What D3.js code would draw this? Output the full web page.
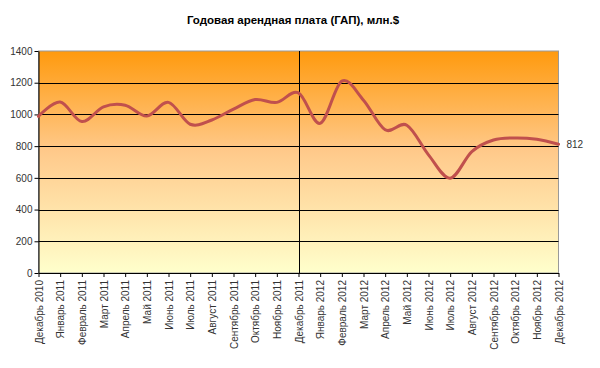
<!DOCTYPE html>
<html><head><meta charset="utf-8">
<script src="https://cdn.jsdelivr.net/npm/d3@7"></script>
<style>body{margin:0;background:#fff;} text{font-family:"Liberation Sans",Arial,sans-serif;}</style>
</head><body>
<svg id="c" width="600" height="368"></svg>
<script>
const title = "Годовая арендная плата (ГАП), млн.$";
const months = ["Декабрь 2010","Январь 2011","Февраль 2011","Март 2011","Апрель 2011","Май 2011","Июнь 2011","Июль 2011","Август 2011","Сентябрь 2011","Октябрь 2011","Ноябрь 2011","Декабрь 2011","Январь 2012","Февраль 2012","Март 2012","Апрель 2012","Май 2012","Июнь 2012","Июль 2012","Август 2012","Сентябрь 2012","Октябрь 2012","Ноябрь 2012","Декабрь 2012"];
const values = [988,1078,955,1048,1058,990,1076,938,965,1034,1094,1076,1136,944,1210,1090,903,932,745,598,766,839,852,843,812];
const yTicks = [0,200,400,600,800,1000,1200,1400];
const dividerMonth = "Декабрь 2011";
const lastLabel = "812";

const svg = d3.select("#c");
const L=38.5, R=558.5, T=51, B=273;
const x = d3.scalePoint().domain(months).range([L,R]);
const y = d3.scaleLinear().domain([0,1400]).range([B,T]);

const defs = svg.append("defs");
const g = defs.append("linearGradient").attr("id","bg").attr("x1",0).attr("y1",0).attr("x2",0).attr("y2",1);
g.append("stop").attr("offset","0%").attr("stop-color","#FF9A0E");
g.append("stop").attr("offset","45%").attr("stop-color","#FFC98A");
g.append("stop").attr("offset","100%").attr("stop-color","#FFFFCC");

svg.append("rect").attr("x",L).attr("y",T).attr("width",R-L).attr("height",B-T).attr("fill","url(#bg)").attr("stroke","#999").attr("stroke-width",1);

// grid
svg.append("g").selectAll("line").data(yTicks.filter(d=>d>0&&d<1400)).join("line")
  .attr("x1",L).attr("x2",R).attr("y1",d=>Math.round(y(d))+0.5).attr("y2",d=>Math.round(y(d))+0.5)
  .attr("stroke","#000").attr("stroke-width",1);

// divider
svg.append("line").attr("x1",Math.round(x(dividerMonth))+0.5).attr("x2",Math.round(x(dividerMonth))+0.5)
  .attr("y1",T).attr("y2",B).attr("stroke","#000").attr("stroke-width",1);

// y axis
const ya = svg.append("g").attr("transform",`translate(${L},0)`)
  .call(d3.axisLeft(y).tickValues(yTicks).tickSize(4).tickSizeOuter(0).tickFormat(d3.format("d")));
ya.select(".domain").attr("stroke","#000");
ya.selectAll(".tick line").attr("stroke","#000");
ya.selectAll("text").attr("font-size","10px").attr("fill","#333").attr("x",-6);

// x axis
const xa = svg.append("g").attr("transform",`translate(0,${B})`)
  .call(d3.axisBottom(x).tickSize(4).tickSizeOuter(0));
xa.select(".domain").attr("stroke","#000");
xa.selectAll(".tick line").attr("stroke","#000");
xa.selectAll("text").attr("font-size","10px").attr("fill","#333")
  .attr("transform","rotate(-90)").attr("text-anchor","end").attr("x",-7).attr("y",0).attr("dy","0.35em");

// line
const line = d3.line().x((d,i)=>x(months[i])).y(d=>y(d)).curve(d3.curveCardinal.tension(0));
svg.append("path").datum(values).attr("d",line).attr("fill","none")
  .attr("stroke","#C0504D").attr("stroke-width",3).attr("stroke-linejoin","round").attr("stroke-linecap","round");

// last label
svg.append("text").attr("x",x(months[months.length-1])+8).attr("y",y(values[values.length-1])).attr("dy","0.35em")
  .attr("font-size","10px").attr("fill","#333").text(lastLabel);

// title
svg.append("text").attr("x",293).attr("y",24).attr("text-anchor","middle").attr("font-size","11.5px").attr("font-weight","bold").attr("fill","#000").text(title);
</script>
</body></html>
